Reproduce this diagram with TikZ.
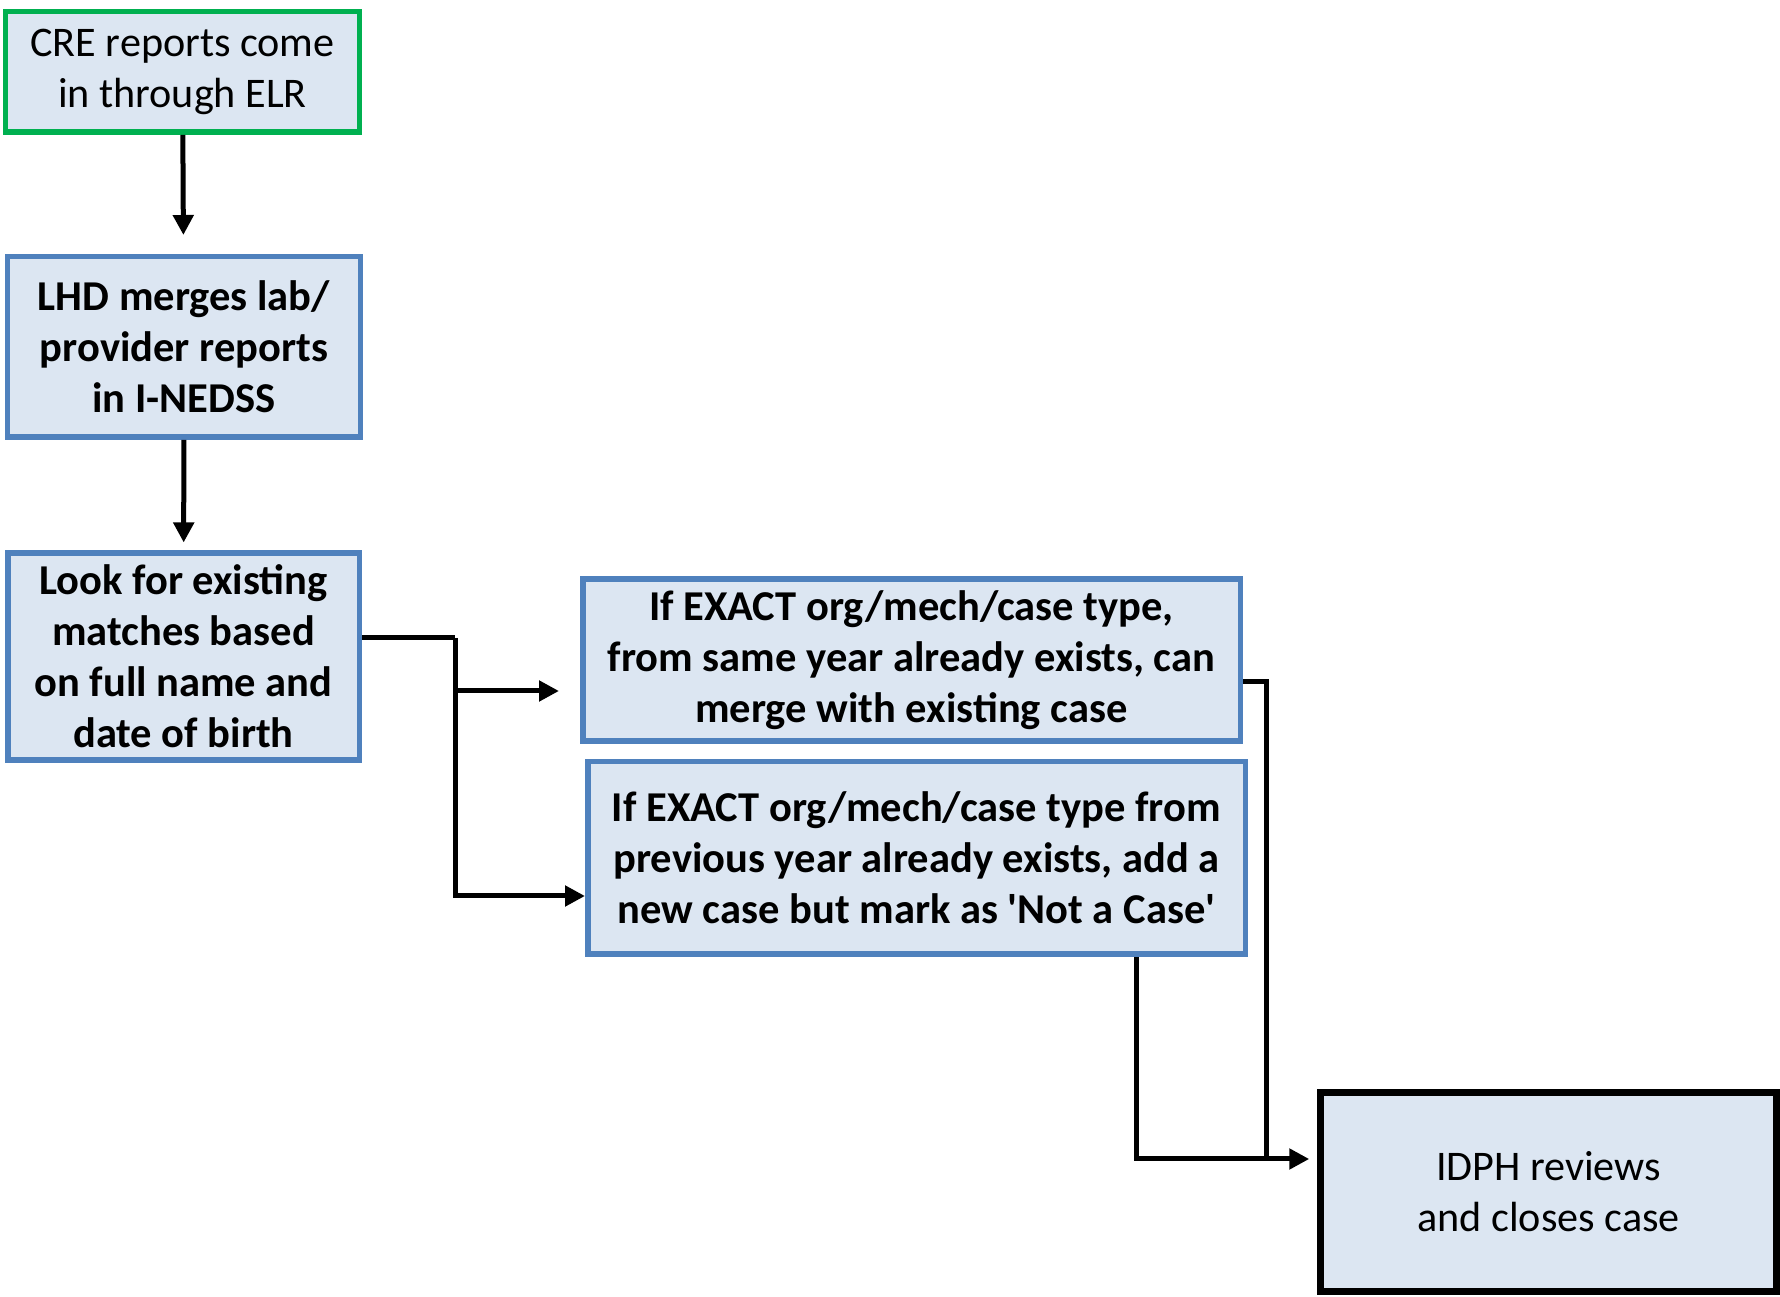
\documentclass[tikz,border=0pt]{standalone}
\usepackage{fontspec}
\setmainfont{Carlito}
\usetikzlibrary{arrows.meta,positioning,shapes,backgrounds}
\definecolor{boxfill}{HTML}{DCE6F2}
\definecolor{boxblue}{HTML}{4F81BD}
\definecolor{boxgreen}{HTML}{00B050}

\begin{document}
\begin{tikzpicture}[thick]

		\tikzstyle{step0}=[rectangle, line width=0.055cm, fill=boxfill, draw=boxgreen, text=black, align=center, font=\fontsize{12}{14.5}\selectfont]
		\tikzstyle{task}=[rectangle, line width=0.055cm, fill=boxfill, draw=boxblue, text=black, align=center, font=\fontsize{12.1}{14.5}\selectfont\bfseries]
		\tikzstyle{final}=[rectangle, line width=0.065cm, fill=boxfill, draw=black, text=black, align=center, font=\fontsize{12}{14.5}\selectfont]
		\tikzstyle{link}=[line width=0.05cm, black]
		\tikzstyle{arr}=[link, -{Triangle[length=0.2cm, width=0.2cm]}]

		\useasboundingbox (0,0) rectangle (17.8,-12.97);

		\node[step0, minimum width=3.535cm, minimum height=1.205cm] (cre) at (1.825,-0.72) {CRE reports come\\in through ELR};
		\node[task, minimum width=3.525cm, minimum height=1.805cm] (lhd) at (1.84,-3.47) {LHD merges lab/\\provider reports\\in I-NEDSS};
		\node[task, minimum width=3.515cm, minimum height=2.035cm] (look) at (1.835,-6.565) {Look for existing\\matches based\\on full name and\\date of birth};
		\node[task, minimum width=6.575cm, minimum height=1.505cm] (same) at (9.115,-6.60) {If EXACT org/mech/case type,\\from same year already exists, can\\merge with existing case};
		\node[task, minimum width=6.575cm, minimum height=1.925cm] (prev) at (9.165,-8.58) {If EXACT org/mech/case type from\\previous year already exists, add a\\new case but mark as \textquotesingle Not a Case\textquotesingle};
		\node[final, minimum width=4.56cm, minimum height=1.99cm] (idph) at (15.485,-11.92) {IDPH reviews\\and closes case};

		% Main flow
		\draw[arr, shorten >=0.19cm] (cre) -- (lhd);
		\draw[arr, shorten >=0.08cm] (lhd) -- (look);

		% Matching branches
		\coordinate (split) at (4.55,-6.38);
		\coordinate (toSame) at ([yshift=-0.31cm]same.west);
		\draw[link] (look.east |- split) -- (split);
		\draw[arr] (split) |- ([yshift=-0.38cm]prev.west);
		\draw[arr, shorten >=0.21cm] (split |- toSame) -- (toSame);

		% Review
		\coordinate (merge) at (12.66,-11.59);
		\draw[link] ([yshift=-0.22cm]same.east) -| (merge);
		\draw[arr, shorten >=0.08cm] ([xshift=2.195cm]prev.south) |- (idph.west |- merge);

\end{tikzpicture}
\end{document}
